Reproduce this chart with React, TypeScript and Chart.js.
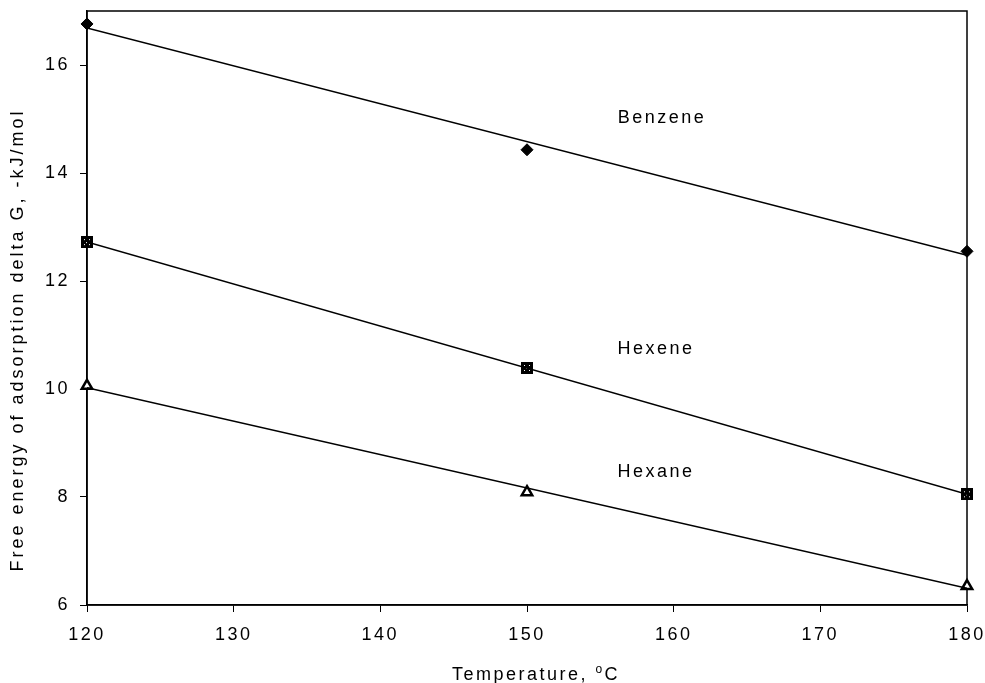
import React, { useEffect, useRef } from "react";
import { Chart, registerables } from "chart.js";

Chart.register(...registerables);

const temperatures = [120, 150, 180];
const benzene = [16.76, 14.43, 12.55];
const hexene = [12.72, 10.39, 8.05];
const hexane = [10.06, 8.09, 6.35];

const seriesNames = ["Benzene", "Hexene", "Hexane"];
const labelX = [159.2, 158.8, 158.8];
const labelY = [15.01, 10.74, 8.47];

const xTitle = "Temperature, ";
const yTitle = "Free energy of adsorption delta G, -kJ/mol";

const FONT = "'Liberation Sans', Arial, sans-serif";

function fit(xs: number[], ys: number[]) {
  const n = xs.length;
  const mx = xs.reduce((a, b) => a + b, 0) / n;
  const my = ys.reduce((a, b) => a + b, 0) / n;
  let sxy = 0, sxx = 0;
  for (let i = 0; i < n; i++) {
    sxy += (xs[i] - mx) * (ys[i] - my);
    sxx += (xs[i] - mx) ** 2;
  }
  const b = sxy / sxx;
  const a = my - b * mx;
  const x0 = xs[0], x1 = xs[n - 1];
  return [{ x: x0, y: a + b * x0 }, { x: x1, y: a + b * x1 }];
}

function pts(ys: number[]) {
  return temperatures.map((t, i) => ({ x: t, y: ys[i] }));
}

function squareMarker() {
  const c = document.createElement("canvas");
  c.width = 12; c.height = 12;
  const g = c.getContext("2d")!;
  g.fillStyle = "#000";
  g.fillRect(0, 0, 12, 12);
  g.fillStyle = "#fff";
  [[3, 3], [8, 3], [5, 6], [3, 8], [8, 8]].forEach(([x, y]) => g.fillRect(x, y, 1, 1));
  return c;
}

export default function App() {
  const ref = useRef<HTMLCanvasElement>(null);
  useEffect(() => {
    const canvas = ref.current!;
    const textPlugin = {
      id: "texts",
      beforeDraw(chart: any) {
        chart.ctx.letterSpacing = "2.5px";
      },
      beforeDatasetsDraw(chart: any) {
        const { ctx, chartArea: a } = chart;
        ctx.save();
        ctx.strokeStyle = "#000";
        ctx.lineWidth = 1.5;
        ctx.strokeRect(a.left, a.top, a.right - a.left, a.bottom - a.top);
        ctx.restore();
      },
      afterDraw(chart: any) {
        const { ctx } = chart;
        const xs = chart.scales.x, ys = chart.scales.y;
        ctx.save();
        ctx.letterSpacing = "2.5px";
        ctx.fillStyle = "#000";
        ctx.font = `18px ${FONT}`;
        ctx.textAlign = "center";
        ctx.textBaseline = "middle";
        seriesNames.forEach((n, i) => {
          ctx.fillText(n, xs.getPixelForValue(labelX[i]), ys.getPixelForValue(labelY[i]));
        });
        // x title with superscript o
        ctx.textBaseline = "alphabetic";
        ctx.textAlign = "left";
        ctx.font = `18px ${FONT}`;
        const w1 = ctx.measureText(xTitle).width;
        ctx.font = `12px ${FONT}`;
        const w2 = ctx.measureText("o").width;
        ctx.font = `18px ${FONT}`;
        const w3 = ctx.measureText("C").width;
        const total = w1 + w2 + w3;
        let x = 536 - total / 2;
        const base = 680;
        ctx.fillText(xTitle, x, base);
        x += w1;
        ctx.font = `12px ${FONT}`;
        ctx.fillText("o", x, base - 7);
        x += w2;
        ctx.font = `18px ${FONT}`;
        ctx.fillText("C", x, base);
        // y title
        ctx.letterSpacing = "3px";
        ctx.translate(18, 340);
        ctx.rotate(-Math.PI / 2);
        ctx.textAlign = "center";
        ctx.textBaseline = "middle";
        ctx.fillText(yTitle, 0, 0);
        ctx.restore();
      },
    };

    const chart = new Chart(canvas, {
      type: "scatter",
      data: {
        datasets: [
          { type: "line", data: fit(temperatures, benzene), borderColor: "#000", borderWidth: 1.5, pointRadius: 0, fill: false },
          { type: "line", data: fit(temperatures, hexene), borderColor: "#000", borderWidth: 1.5, pointRadius: 0, fill: false },
          { type: "line", data: fit(temperatures, hexane), borderColor: "#000", borderWidth: 1.5, pointRadius: 0, fill: false },
          { label: "Benzene", data: pts(benzene), clip: false, pointStyle: "rectRot", pointRadius: 6, backgroundColor: "#000", borderColor: "#000", borderWidth: 1 },
          { label: "Hexene", data: pts(hexene), clip: false, pointStyle: squareMarker() as any, pointRadius: 6, backgroundColor: "#000", borderColor: "#000" },
          { label: "Hexane", data: pts(hexane), clip: false, pointStyle: "triangle", pointRadius: 6, backgroundColor: "#fff", borderColor: "#000", borderWidth: 2.5 },
        ] as any,
      },
      options: {
        responsive: false,
        animation: false,
        devicePixelRatio: 1,
        layout: { padding: { top: 11, right: 18, left: 0, bottom: 0 } },
        plugins: { legend: { display: false }, tooltip: { enabled: false } },
        scales: {
          x: {
            type: "linear",
            min: 120,
            max: 180,
            ticks: { stepSize: 10, color: "#000", font: { size: 18, family: FONT }, padding: 12 },
            grid: { drawOnChartArea: false, drawTicks: true, tickLength: 7, color: "#000", lineWidth: 1 },
            border: { display: true, color: "#000", width: 1.5 },
            afterFit(s: any) { s.height = 78; s.paddingLeft = 0; s.paddingRight = 0; },
          },
          y: {
            type: "linear",
            min: 6,
            max: 17,
            ticks: { stepSize: 2, color: "#000", font: { size: 18, family: FONT }, padding: 10 },
            afterBuildTicks(s: any) { s.ticks = s.ticks.filter((t: any) => t.value !== 17); },
            grid: { drawOnChartArea: false, drawTicks: true, tickLength: 7, color: "#000", lineWidth: 1 },
            border: { display: true, color: "#000", width: 1.5 },
            afterFit(s: any) { s.width = 87; s.paddingTop = 0; s.paddingBottom = 0; },
          },
        },
      },
      plugins: [textPlugin],
    });
    return () => chart.destroy();
  }, []);
  return (
    <div style={{ position: "absolute", left: 0, top: 0, width: 985, height: 683, background: "#fff" }}>
      <canvas ref={ref} width={985} height={683} />
    </div>
  );
}
